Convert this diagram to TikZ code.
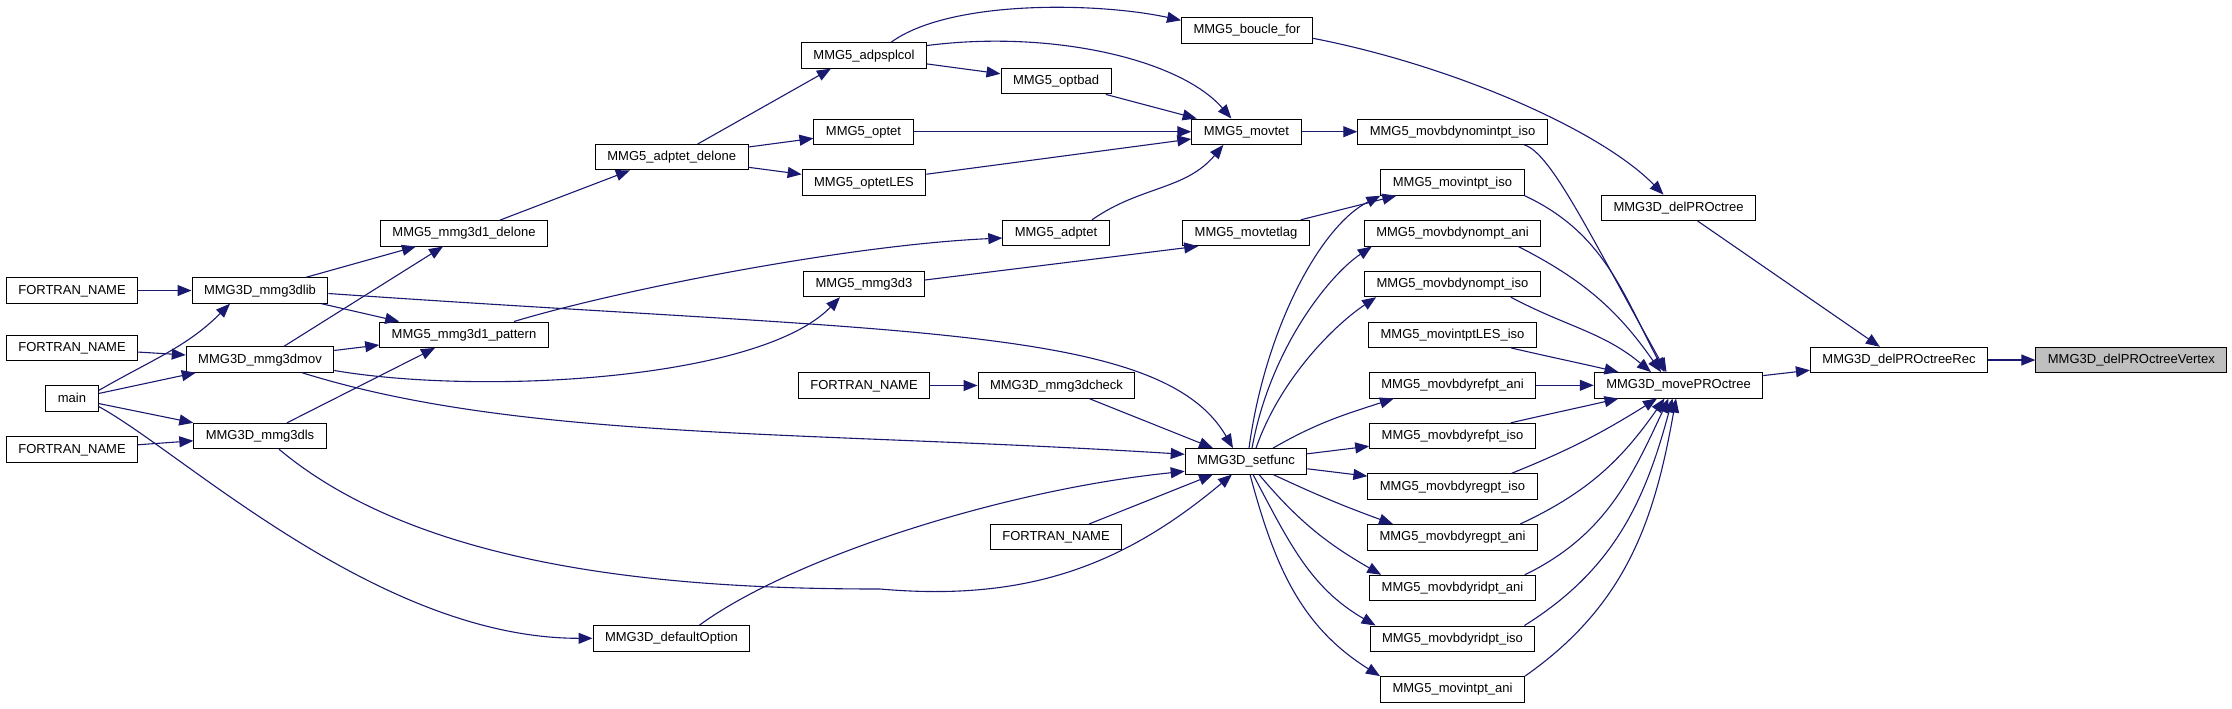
\documentclass[tikz,border=0pt]{standalone}
\usepackage{fontspec}
\setmainfont{Liberation Sans}
\usetikzlibrary{arrows.meta,calc}
\definecolor{CgNavy}{RGB}{25,25,112}
\definecolor{CgGray}{RGB}{191,191,191}
\tikzset{
  cg/box/.style={
    draw=black,
    line width=0.5pt,
    fill=white,
    font=\fontsize{6.5}{7.8}\selectfont,
    inner xsep=6pt,
    inner ysep=0pt,
    minimum height=12.7pt,
    text height=4.9pt,
    text depth=1.4pt
  },
  cg/root/.style={cg/box, fill=CgGray},
  cg/edge/.style={-{Triangle[length=7pt,width=5.5pt]}, line width=0.55pt, draw=CgNavy}
}
\begin{document}
\begin{tikzpicture}[x=0.5pt,y=-0.5pt]
  \useasboundingbox (0,0) rectangle (2232,708);
  \foreach \nm/\y in {fnA/290.5,fnB/348,fnC/449.5}{
    \node[cg/box] (\nm) at (72,\y) {FORTRAN\_NAME};
  }
  \node[cg/box] (main) at (72,398.5) {main};
  \foreach \nm/\y/\lab in {lib/290.5/mmg3dlib,mov/359.5/mmg3dmov,ls/436/mmg3dls}{
    \node[cg/box] (\nm) at (260,\y) {MMG3D\_\lab};
  }
  \node[cg/box] (delone) at (464,233.3) {MMG5\_mmg3d1\_delone};
  \node[cg/box] (pattern) at (464,334.7) {MMG5\_mmg3d1\_pattern};
  \node[cg/box] (adpdel) at (671.7,157.2) {MMG5\_adptet\_delone};
  \node[cg/box] (defopt) at (671.5,638.3) {MMG3D\_defaultOption};
  \node[cg/box] (splcol) at (864,55.5) {MMG5\_adpsplcol};
  \node[cg/box] (optet) at (863.5,131.7) {MMG5\_optet};
  \node[cg/box] (optles) at (864,182.5) {MMG5\_optetLES};
  \node[cg/box] (mmgd3) at (864,284) {MMG5\_mmg3d3};
  \node[cg/box] (fnD) at (864,385.5) {FORTRAN\_NAME};
  \node[cg/box] (boucle) at (1247,30.3) {MMG5\_boucle\_for};
  \node[cg/box] (optbad) at (1056,81.2) {MMG5\_optbad};
  \node[cg/box] (adptet) at (1056,233) {MMG5\_adptet};
  \node[cg/box] (check) at (1056.5,385.5) {MMG3D\_mmg3dcheck};
  \node[cg/box] (fnE) at (1056,537.2) {FORTRAN\_NAME};
  \node[cg/box] (movtet) at (1246.4,131.7) {MMG5\_movtet};
  \node[cg/box] (movtetlag) at (1246,233) {MMG5\_movtetlag};
  \node[cg/box] (setfunc) at (1246,461.3) {MMG3D\_setfunc};
  \foreach \nm/\y/\lab in {nomint/131.7/movbdynomintpt\_iso,intiso/182.5/movintpt\_iso,
      nomani/233.3/movbdynompt\_ani,nomiso/284/movbdynompt\_iso,lesiso/334.7/movintptLES\_iso,
      refani/385.3/movbdyrefpt\_ani,refiso/436/movbdyrefpt\_iso,regiso/486.5/movbdyregpt\_iso,
      regani/537.3/movbdyregpt\_ani,ridani/588/movbdyridpt\_ani,ridiso/638.7/movbdyridpt\_iso,
      intani/689.3/movintpt\_ani}{
    \node[cg/box] (\nm) at (1452.5,\y) {MMG5\_\lab};
  }
  \node[cg/box] (delpro) at (1678.5,207.8) {MMG3D\_delPROctree};
  \node[cg/box] (move) at (1678.5,385.3) {MMG3D\_movePROctree};
  \node[cg/box] (rec) at (1899,360) {MMG3D\_delPROctreeRec};
  \node[cg/root] (vertex) at (2131.3,360) {MMG3D\_delPROctreeVertex};
  \coordinate (lsdip) at (880,589);

  \foreach \a/\b in {fnA/lib,fnB/mov,fnC/ls,mov/pattern,adpdel/optet,adpdel/optles,
      splcol/optbad,optbad/movtet,optet/movtet,optles/movtet,movtet/nomint,fnD/check,
      check/setfunc,fnE/setfunc,setfunc/refiso,setfunc/regiso,refani/move,move/rec,
      delpro/rec,rec/vertex}{
    \draw[cg/edge] (\a) -- (\b);
  }
  \draw[cg/edge] ($(main.east)+(0,-8)$) to[out=30,in=-135] ($(lib.south)+(-30,0)$);
  \draw[cg/edge] ($(main.east)+(0,-5)$) -- ($(mov.south west)+(10,0)$);
  \draw[cg/edge] ($(main.east)+(0,5)$) -- (ls.north west);
  \draw[cg/edge] ($(main.east)+(0,8)$) .. controls +(82,44) and +(-215,0) .. (defopt.west);
  \draw[cg/edge] ($(lib.north)+(46,0)$) -- ($(delone.south)+(-48,0)$);
  \draw[cg/edge] ($(lib.south east)+(-7,0)$) -- ($(pattern.north west)+(20,0)$);
  \draw[cg/edge] ($(lib.east)+(0,3)$) .. controls +(573,40) and +(-72,-124) .. ($(setfunc.north)+(-13,0)$);
  \draw[cg/edge] ($(mov.north)+(24,0)$) -- ($(delone.south)+(-21,0)$);
  \draw[cg/edge] ($(mov.east)+(0,11)$) .. controls +(147,25) and +(-80,83) .. ($(mmgd3.south)+(-24,0)$);
  \draw[cg/edge] ($(mov.south)+(42,0)$) .. controls +(218,68) and +(-385,-24) .. ($(setfunc.west)+(0,-7)$);
  \draw[cg/edge] ($(ls.north)+(27,0)$) -- ($(pattern.south)+(-29,0)$);
  \draw[cg/edge] ($(ls.south)+(19,0)$) to[out=-40,in=180,looseness=0.8] (lsdip)
    to[out=-5,in=-140] ($(setfunc.south)+(-14,0)$);
  \draw[cg/edge] ($(defopt.north)+(28,0)$) .. controls +(90,-66) and +(-185,19) .. ($(setfunc.west)+(0,10)$);
  \draw[cg/edge] ($(delone.north)+(36,0)$) -- ($(adpdel.south west)+(35,0)$);
  \draw[cg/edge] ($(pattern.north)+(50,0)$) .. controls +(106,-32) and +(-154,7) .. ($(adptet.west)+(0,5)$);
  \draw[cg/edge] ($(adpdel.north)+(26,0)$) -- ($(splcol.south west)+(30,0)$);
  \draw[cg/edge] ($(splcol.north)+(27,0)$) .. controls +(59,-43) and +(-83,-18) .. ($(boucle.west)+(0,-10)$);
  \draw[cg/edge] ($(splcol.east)+(0,-10)$) .. controls +(125,-16) and +(-51,-59) .. ($(movtet.north)+(-15,0)$);
  \draw[cg/edge] ($(adptet.north)+(36,0)$) to[out=35,in=-130] ($(movtet.south)+(-23,0)$);
  \draw[cg/edge] ($(mmgd3.east)+(0,-4)$) -- ($(movtetlag.south west)+(16,0)$);
  \draw[cg/edge] ($(movtetlag.north east)+(-9,0)$) -- ($(intiso.south west)+(16,0)$);
  \draw[cg/edge] ($(setfunc.north)+(3,0)$) .. controls +(16,-119) and +(-60,30) .. (intiso.south west);
  \draw[cg/edge] ($(setfunc.north)+(6,0)$) .. controls +(18,-99) and +(-43,29) .. ($(nomani.south west)+(8,0)$);
  \draw[cg/edge] ($(setfunc.north)+(10,0)$) .. controls +(24,-69) and +(-42,28) .. ($(nomiso.south west)+(12,0)$);
  \draw[cg/edge] ($(setfunc.north)+(27,0)$) to[out=30,in=-162] ($(refani.south west)+(25,0)$);
  \foreach \b/\s/\e/\o/\i in {regani/27/26/-25/160,ridani/13/12/-50/150,
      ridiso/7/6/-62/150,intani/4/0/-75/148}{
    \draw[cg/edge] ($(setfunc.south)+(\s,0)$) to[out=\o,in=\i] ($(\b.north west)+(\e,0)$);
  }
  \draw[cg/edge] ($(nomint.south east)+(-23.5,0)$) .. controls +(27,8) and +(-76.5,-136.7) .. ($(move.north)+(-12,0)$);
  \foreach \a/\s/\e/\o/\i in {intiso/0/-14/-25/118,nomani/-23/-17.5/-27/125,
      nomiso/-30/-27.5/-28/140,lesiso/-26/-60/-13/167}{
    \draw[cg/edge] ($(\a.south east)+(\s,0)$) to[out=\o,in=\i] ($(move.north)+(\e,0)$);
  }
  \foreach \a/\s/\e/\o/\i in {refiso/-25/-60/13/-167,regiso/-26/-21.5/22/-148,
      regani/-18/-14/25/-125,ridani/-11/-10/26/-115,ridiso/-11/-6/32/-105,intani/0/-2.5/35/-100}{
    \draw[cg/edge] ($(\a.north east)+(\s,0)$) to[out=\o,in=\i] ($(move.south)+(\e,0)$);
  }
  \draw[cg/edge] ($(boucle.east)+(0,8)$) .. controls +(139,27) and +(-63.5,-65) .. ($(delpro.north)+(-15,0)$);
\end{tikzpicture}
\end{document}
